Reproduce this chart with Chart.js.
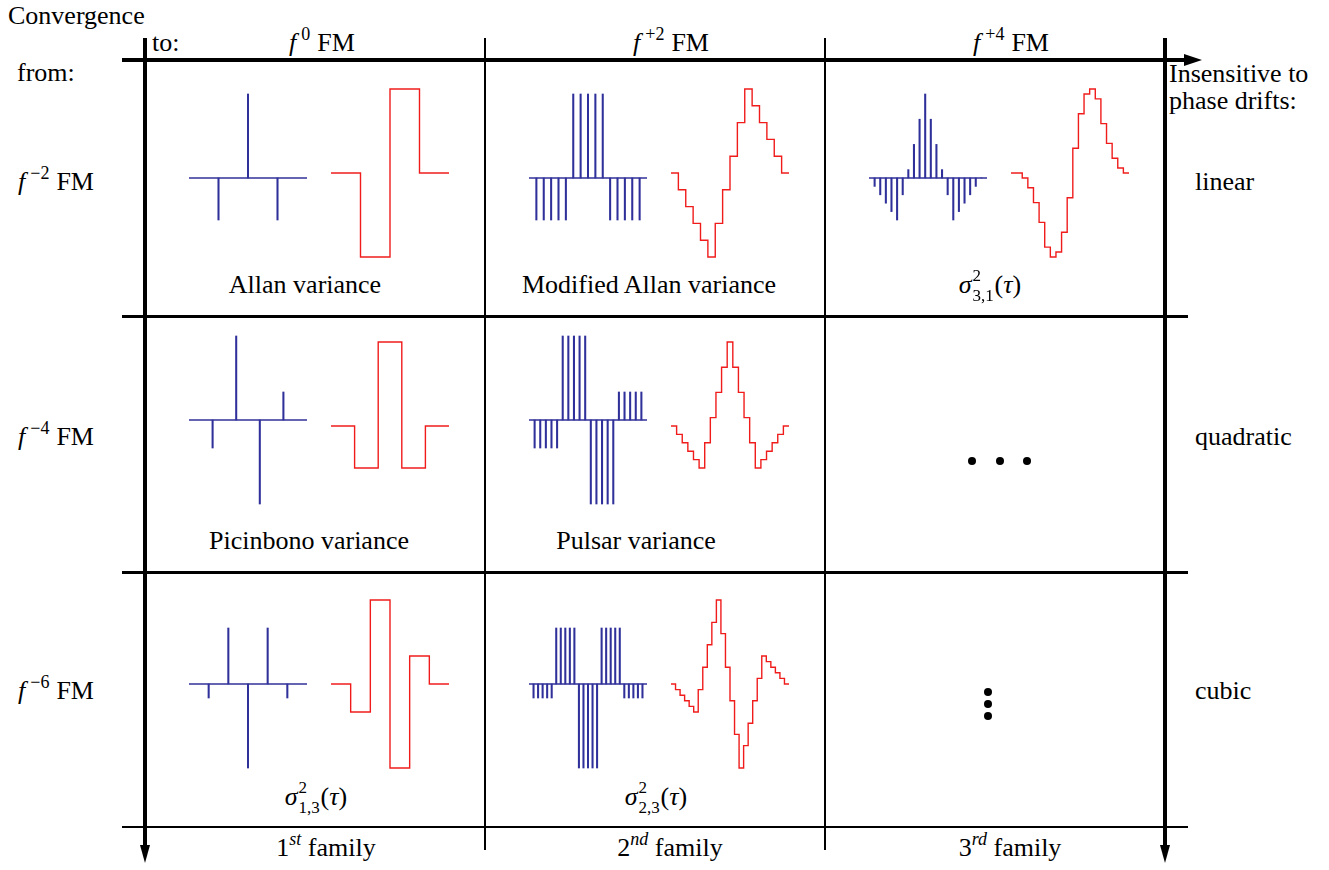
<!DOCTYPE html>
<html>
<head>
<meta charset="utf-8">
<title>Variance families</title>
<style>
    body { margin: 0; background: #fff; }
    #page {
        position: relative;
        width: 1329px;
        height: 870px;
        overflow: hidden;
        font-family: "Liberation Serif", "Times New Roman", serif;
        font-size: 26px;
        color: #000;
    }
    .txt { position: absolute; white-space: nowrap; line-height: 26px; }
    .ln { position: absolute; background: #000; }
    .sp { font-size: 18px; position: relative; top: -11px; }
    .fs { margin-left: 5px; margin-right: 7px; }
    .sb { display: inline-block; position: relative; width: 23px; height: 1px; }
    .sb .u { position: absolute; left: 1px; top: -29px; font-size: 17px; }
    .sb .d { position: absolute; left: 1px; top: -9px; font-size: 17px; }
    .dot { position: absolute; width: 8px; height: 8px; border-radius: 50%; background: #000; }
    canvas { position: absolute; }
</style>
</head>
<body>
<div id="page"></div>
<script src="https://cdn.jsdelivr.net/npm/chart.js"></script>
<script>
// blue: filter weights (stems), red: their running sum (steps)
const allanStems = [-1, 2, -1];
const allanSteps = [0, -1, 1, 0];
const modAllanStems = [-1, -1, -1, -1, -1, 2, 2, 2, 2, 2, -1, -1, -1, -1, -1];
const modAllanSteps = [0, -1, -2, -3, -4, -5, -3, -1, 1, 3, 5, 4, 3, 2, 1, 0];
const sigma31Stems = [-1, -2, -3, -4, -5, -2, 1, 4, 7, 10, 7, 4, 1, -2, -5, -4, -3, -2, -1, 0];
const sigma31Steps = [0, 0, -1, -3, -6, -10, -15, -17, -16, -12, -5, 5, 12, 16, 17, 15, 10, 6, 3, 1, 0];
const picinbonoStems = [-1, 3, -3, 1];
const picinbonoSteps = [0, -1, 2, -1, 0];
const pulsarStems = [-1, -1, -1, -1, -1, 3, 3, 3, 3, 3, -3, -3, -3, -3, -3, 1, 1, 1, 1, 1];
const pulsarSteps = [0, -1, -2, -3, -4, -5, -2, 1, 4, 7, 10, 7, 4, 1, -2, -5, -4, -3, -2, -1, 0];
const sigma13Stems = [-1, 4, -6, 4, -1];
const sigma13Steps = [0, -1, 3, -3, 1, 0];
const sigma23Stems = [-1, -1, -1, -1, -1, 4, 4, 4, 4, 4, -6, -6, -6, -6, -6, 4, 4, 4, 4, 4, -1, -1, -1, -1, -1];
const sigma23Steps = [0, -1, -2, -3, -4, -5, -1, 3, 7, 11, 15, 9, 3, -3, -9, -15, -11, -7, -3, 1, 5, 4, 3, 2, 1, 0];

// text
const colHeads = ['<i>f</i><span class="sp fs">0</span>FM', '<i>f</i><span class="sp fs">+2</span>FM', '<i>f</i><span class="sp fs">+4</span>FM'];
const rowHeads = ['<i>f</i><span class="sp fs">\u22122</span>FM', '<i>f</i><span class="sp fs">\u22124</span>FM', '<i>f</i><span class="sp fs">\u22126</span>FM'];
const driftNames = ['linear', 'quadratic', 'cubic'];
const families = ['1<span class="sp"><i>st</i></span> family', '2<span class="sp"><i>nd</i></span> family', '3<span class="sp"><i>rd</i></span> family'];
function sigma(sub) {
    return '<i>\u03c3</i><span class="sb"><span class="u">2</span><span class="d">' + sub + '</span></span>(<i>\u03c4</i>)';
}

// cells: [stems, steps, caption, col, row]
const cells = [
    [allanStems, allanSteps, 'Allan variance', 0, 0],
    [modAllanStems, modAllanSteps, 'Modified Allan variance', 1, 0],
    [sigma31Stems, sigma31Steps, sigma('3,1'), 2, 0],
    [picinbonoStems, picinbonoSteps, 'Picinbono variance', 0, 1],
    [pulsarStems, pulsarSteps, 'Pulsar variance', 1, 1],
    [sigma13Stems, sigma13Steps, sigma('1,3'), 0, 2],
    [sigma23Stems, sigma23Steps, sigma('2,3'), 1, 2]
];

// layout
const blueX = [189, 529, 869];
const redX = [331, 671, 1011];
const blueBase = [178, 420, 684];
const redBase = [173, 426, 684];
const captionX = [[305, 649, 990], [309, 636, 0], [316, 656, 0]];
const captionBase = [294, 550, 806];
const PLOT_W = 118, HALF_H = 84, PAD = 4;
const BLUE = '#30309a';
const RED = '#f01c1c';

const page = document.getElementById('page');

function rect(x, y, w, h) {
    const d = document.createElement('div');
    d.className = 'ln';
    d.style.left = x + 'px';
    d.style.top = y + 'px';
    d.style.width = w + 'px';
    d.style.height = h + 'px';
    page.appendChild(d);
}
function hline(y, x1, x2, t) { rect(x1, y - t / 2, x2 - x1, t); }
function vline(x, y1, y2, t) { rect(x - t / 2, y1, t, y2 - y1); }

function label(html, x, base, center) {
    const d = document.createElement('div');
    d.className = 'txt';
    d.innerHTML = html;
    d.style.top = (base - 22) + 'px';
    d.style.left = x + 'px';
    if (center) d.style.transform = 'translateX(-50%)';
    page.appendChild(d);
}

function arrow(css) {
    const d = document.createElement('div');
    d.style.position = 'absolute';
    d.style.width = '0';
    d.style.height = '0';
    Object.assign(d.style, css);
    page.appendChild(d);
}

function dot(x, y) {
    const d = document.createElement('div');
    d.className = 'dot';
    d.style.left = (x - 4) + 'px';
    d.style.top = (y - 4) + 'px';
    page.appendChild(d);
}

// frame
vline(145, 38, 848, 4);
vline(1165, 38, 848, 4);
hline(60, 122, 1188, 4);
hline(316, 122, 1188, 3);
hline(572, 122, 1188, 3);
hline(827, 122, 1188, 2);
vline(485, 38, 850, 2);
vline(825, 38, 850, 2);
arrow({ left: '1184px', top: '54px', borderTop: '6px solid transparent', borderBottom: '6px solid transparent', borderLeft: '18px solid #000' });
arrow({ left: '140px', top: '845px', borderLeft: '5px solid transparent', borderRight: '5px solid transparent', borderTop: '18px solid #000' });
arrow({ left: '1160px', top: '845px', borderLeft: '5px solid transparent', borderRight: '5px solid transparent', borderTop: '18px solid #000' });

// headers
label('Convergence', 8, 25);
label('to:', 152, 52);
label('from:', 17, 82);
label('Insensitive to', 1169, 83);
label('phase drifts:', 1169, 110);
[322, 671, 1011].forEach((x, i) => label(colHeads[i], x, 52, true));
[191, 446, 700].forEach((y, i) => {
    label(rowHeads[i], 18, y);
    label(driftNames[i], 1195, y);
});
[326, 670, 1010].forEach((x, i) => label(families[i], x, 857, true));

// ellipses in the empty cells
[972, 1000, 1027].forEach(x => dot(x, 461));
[692, 704, 716].forEach(y => dot(988, y));

function makeCanvas(x0, base) {
    const c = document.createElement('canvas');
    c.width = PLOT_W + 2 * PAD;
    c.height = 2 * HALF_H + 2 * PAD;
    c.style.left = (x0 - PAD) + 'px';
    c.style.top = (base - HALF_H - PAD) + 'px';
    page.appendChild(c);
    return c;
}

function baseOptions(n, m) {
    return {
        responsive: false,
        animation: false,
        events: [],
        layout: { padding: PAD },
        plugins: { legend: { display: false }, tooltip: { enabled: false } },
        scales: {
            x: { type: 'linear', display: false, min: 0, max: n, offset: false },
            y: { type: 'linear', display: false, min: -m, max: m }
        }
    };
}

function stemChart(canvas, w) {
    const n = w.length + 1;
    const m = Math.max(...w.map(Math.abs));
    new Chart(canvas, {
        type: 'bar',
        data: {
            datasets: [{
                type: 'line',
                data: [{ x: 0, y: 0 }, { x: n, y: 0 }],
                borderColor: BLUE,
                borderWidth: 1.4,
                pointRadius: 0,
                clip: false
            }, {
                data: w.map((v, i) => ({ x: i + 1, y: v })),
                backgroundColor: BLUE,
                borderWidth: 0,
                barThickness: 1.4,
                grouped: false,
                clip: false
            }]
        },
        options: baseOptions(n, m)
    });
}

function stepChart(canvas, v) {
    const n = v.length;
    const m = Math.max(...v.map(Math.abs));
    const pts = v.map((y, i) => ({ x: i, y: y }));
    pts.push({ x: n, y: v[n - 1] });
    new Chart(canvas, {
        type: 'line',
        data: {
            datasets: [{
                data: pts,
                stepped: true,
                borderColor: RED,
                borderWidth: 1.4,
                pointRadius: 0,
                fill: false,
                clip: false
            }]
        },
        options: baseOptions(n, m)
    });
}

cells.forEach(([stems, steps, caption, col, row]) => {
    stemChart(makeCanvas(blueX[col], blueBase[row]), stems);
    stepChart(makeCanvas(redX[col], redBase[row]), steps);
    label(caption, captionX[row][col], captionBase[row], true);
});
</script>
</body>
</html>
